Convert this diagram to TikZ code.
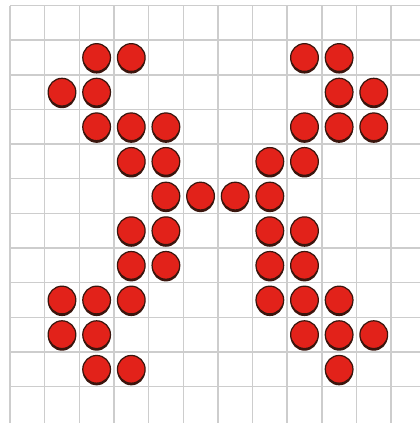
\documentclass[tikz,border=0pt]{standalone}
\usepackage{xcolor}
\usetikzlibrary{shadows}
\definecolor{grid-gray}{HTML}{CDCDCD}
\definecolor{stone-red}{HTML}{E2221A}
\definecolor{stone-rim}{HTML}{3A150D}

\begin{document}
\begin{tikzpicture}[y=-1cm,
      gridline/.style={draw=grid-gray, line width=1.2pt},
      stone/.style={circle, fill=stone-red, draw=stone-rim, line width=1pt,
          minimum size=0.8cm, inner sep=0pt,
          drop shadow={shadow xshift=0pt, shadow yshift=-1.8pt,
              fill=stone-rim, opacity=1}}]
    \useasboundingbox[fill=white] (-0.289,-0.16) rectangle (11.83,12.05);
    % grid
    \foreach \k in {0,...,11} {
      \draw[gridline] (\k,0) -- (\k,12.05);
      \draw[gridline] (0,\k) -- (11.83,\k);
    }
    % stones, row by row
    \foreach \r/\cols in {1/{2,3,8,9}, 2/{1,2,9,10}, 3/{2,3,4,8,9,10},
        4/{3,4,7,8}, 5/{4,5,6,7}, 6/{3,4,7,8}, 7/{3,4,7,8},
        8/{1,2,3,7,8,9}, 9/{1,2,8,9,10}, 10/{2,3,9}} {
      \foreach \c in \cols {
        \node[stone] (s-\c-\r) at (\c+0.5,\r+0.5) {};
      }
    }
\end{tikzpicture}
\end{document}
